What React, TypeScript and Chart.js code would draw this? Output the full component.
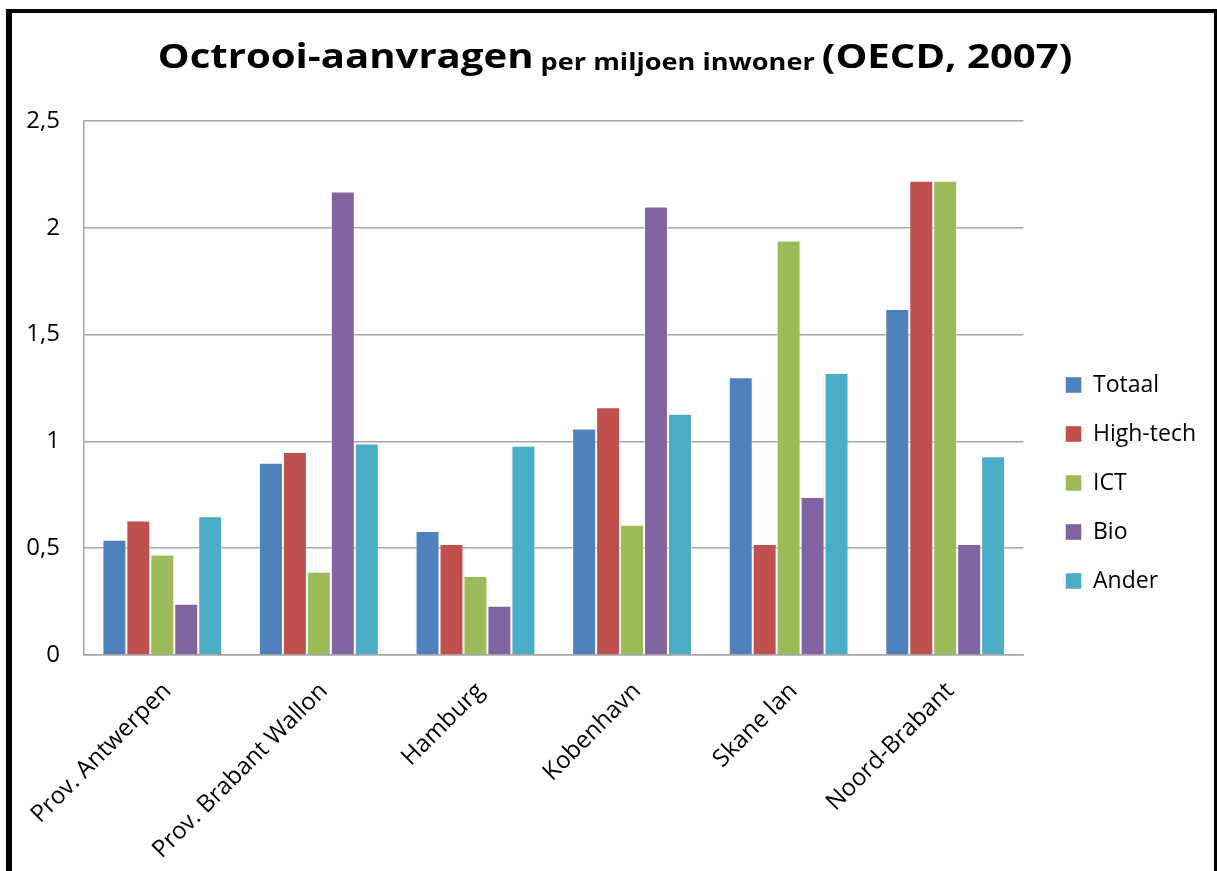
import React, { useEffect, useRef } from 'react';
import { Chart, registerables } from 'chart.js';

Chart.register(...registerables);

const categories = ['Prov. Antwerpen', 'Prov. Brabant Wallon', 'Hamburg', 'Kobenhavn', 'Skane lan', 'Noord-Brabant'];
const seriesNames = ['Totaal', 'High-tech', 'ICT', 'Bio', 'Ander'];
const totaal = [0.54, 0.9, 0.58, 1.06, 1.3, 1.62];
const highTech = [0.63, 0.95, 0.52, 1.16, 0.52, 2.22];
const ict = [0.47, 0.39, 0.37, 0.61, 1.94, 2.22];
const bio = [0.24, 2.17, 0.23, 2.1, 0.74, 0.52];
const ander = [0.65, 0.99, 0.98, 1.13, 1.32, 0.93];
const yTickValues = [0, 0.5, 1, 1.5, 2, 2.5];
const yTickLabels = ['0', '0,5', '1', '1,5', '2', '2,5'];
const seriesColors = ['#4F81BD', '#C0504D', '#9BBB59', '#8064A2', '#4BACC6'];
const titleMain = 'Octrooi-aanvragen';
const titleSub = 'per miljoen inwoner';
const titleTail = '(OECD, 2007)';

const FONT = '"Open Sans", "DejaVu Sans", sans-serif';

const titlePlugin = {
  id: 'mixedTitle',
  afterDraw(chart: any) {
    const ctx = chart.ctx as CanvasRenderingContext2D;
    ctx.save();
    const big = `bold 34px ${FONT}`;
    const small = `bold 23px ${FONT}`;
    const sx = 1.18;
    ctx.font = small;
    const space = ctx.measureText(' ').width;
    const parts = [
      { text: titleMain, font: big, dy: 0 },
      { text: titleSub, font: small, dy: 2 },
      { text: titleTail, font: big, dy: 0 },
    ];
    const widths = parts.map((p) => {
      ctx.font = p.font;
      return ctx.measureText(p.text).width;
    });
    const total = widths.reduce((a, b) => a + b, 0) + space * 2;
    ctx.translate(chart.width / 2 + 2, 0);
    ctx.scale(sx, 1);
    let x = -total / 2;
    const baseline = 55;
    ctx.fillStyle = '#000';
    ctx.textBaseline = 'alphabetic';
    ctx.textAlign = 'left';
    parts.forEach((p, i) => {
      ctx.font = p.font;
      ctx.fillText(p.text, x, baseline + p.dy);
      x += widths[i] + space;
    });
    ctx.restore();
  },
};

export default function App() {
  const canvasRef = useRef<HTMLCanvasElement | null>(null);

  useEffect(() => {
    if (!canvasRef.current) return;
    const seriesValues = [totaal, highTech, ict, bio, ander];
    const chart = new Chart(canvasRef.current, {
      type: 'bar',
      data: {
        labels: categories,
        datasets: seriesNames.map((name, i) => ({
          label: name,
          data: seriesValues[i],
          backgroundColor: seriesColors[i],
          borderColor: 'rgba(255,255,255,0.45)',
          borderWidth: 1,
          barPercentage: 1,
          categoryPercentage: 0.765,
        })),
      },
      options: {
        animation: false,
        responsive: false,
        maintainAspectRatio: false,
        layout: { padding: { top: 82, left: 0, right: 8, bottom: 0 } },
        plugins: {
          title: { display: false },
          tooltip: { enabled: false },
          legend: {
            display: true,
            position: 'right',
            align: 'center',
            labels: {
              boxWidth: 16,
              boxHeight: 16,
              padding: 26,
              color: '#000',
              font: { family: FONT, size: 23 },
            },
          },
        },
        scales: {
          x: {
            type: 'category',
            grid: { display: false, drawTicks: false },
            border: { display: true, color: '#a6a6a6', width: 1.5 },
            ticks: {
              autoSkip: false,
              minRotation: 45,
              maxRotation: 45,
              padding: 22,
              labelOffset: 5,
              color: '#000',
              font: { family: FONT, size: 24 },
            },
            afterFit: (s: any) => {
              s.height = 216;
              s.paddingLeft = 0;
              s.paddingRight = 0;
            },
          },
          y: {
            type: 'linear',
            min: 0,
            max: 2.5,
            afterBuildTicks: (s: any) => {
              s.ticks = yTickValues.map((v) => ({ value: v }));
            },
            grid: { color: '#a6a6a6', lineWidth: 1.5, drawTicks: false },
            border: { display: true, color: '#a6a6a6', width: 1.5 },
            ticks: {
              padding: 24,
              color: '#000',
              font: { family: FONT, size: 24 },
              callback: (v: any) => {
                const idx = yTickValues.indexOf(Number(v));
                return idx >= 0 ? yTickLabels[idx] : '';
              },
            },
            afterFit: (s: any) => {
              s.width = 72;
            },
          },
          topGap: {
            type: 'linear',
            position: 'top',
            display: true,
            grid: { display: false, drawTicks: false },
            border: { display: false },
            ticks: { display: false },
            afterFit: (s: any) => {
              s.height = 26;
              s.paddingLeft = 0;
              s.paddingRight = 0;
            },
          },
          gap: {
            type: 'linear',
            position: 'right',
            display: true,
            grid: { display: false, drawTicks: false },
            border: { display: false },
            ticks: { display: false },
            afterFit: (s: any) => {
              s.width = 16;
            },
          },
        },
      },
      plugins: [titlePlugin],
    } as any);
    return () => chart.destroy();
  }, []);

  return (
    <div
      style={{
        position: 'fixed',
        left: 6,
        top: 9,
        width: 1211,
        height: 900,
        boxSizing: 'border-box',
        borderStyle: 'solid',
        borderColor: '#000',
        borderWidth: '4px 3px 0 6px',
        background: '#fff',
      }}
    >
      <canvas ref={canvasRef} width={1202} height={858} style={{ display: 'block', width: 1202, height: 858 }} />
    </div>
  );
}
